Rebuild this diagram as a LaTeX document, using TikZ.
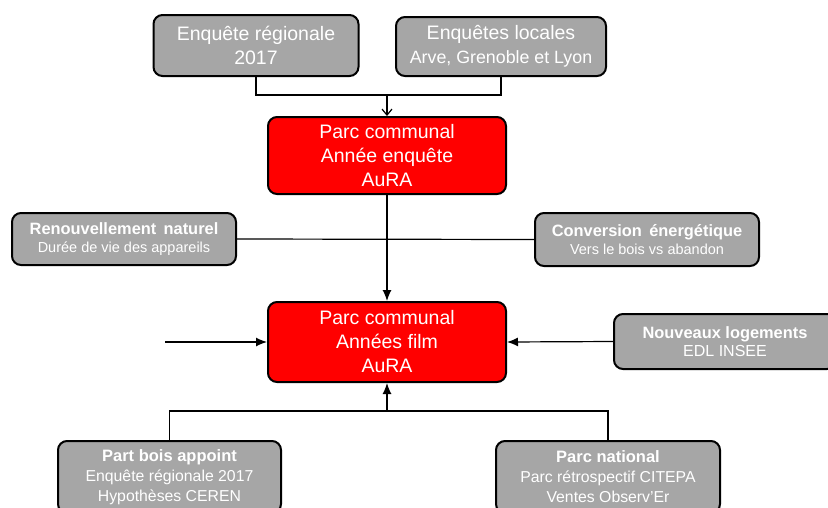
\documentclass[tikz,border=0pt]{standalone}
\usepackage{fontspec}
\setmainfont{Liberation Sans}
\usetikzlibrary{arrows.meta, positioning}
\definecolor{boxgray}{RGB}{166,166,166}
\definecolor{boxred}{RGB}{255,0,0}

\begin{document}
\begin{tikzpicture}[x=1pt, y=-1pt,
    source/.style={rectangle, rounded corners=9pt, draw, line width=2pt,
                   fill=boxgray, text=white, align=center, inner sep=0pt},
    parc/.style={source, fill=boxred},
    bigtext/.style={font=\fontsize{19.5}{24}\selectfont},
    smalltext/.style={font=\fontsize{14.5}{18.5}\selectfont},
    link/.style={line width=1.2pt},
    >={Latex[length=11pt,width=9pt]}]

        \useasboundingbox (0,0) rectangle (828,507);

        % sources de l'enquete
        \node[source, bigtext, minimum width=205, minimum height=61] (enq_reg)
            at (256,45.5) {Enquête régionale\\2017};
        \node[source, bigtext, minimum width=210, minimum height=59] (enq_loc)
            at (501,46.5) {Enquêtes locales\\{\fontsize{17.8}{24}\selectfont Arve, Grenoble et Lyon}};

        % parcs communaux
        \node[parc, bigtext, minimum width=238, minimum height=77] (parc_enq)
            at (387,155.5) {Parc communal\\Année enquête\\AuRA};
        \node[parc, bigtext, minimum width=238, minimum height=80] (parc_film)
            at (387,342) {Parc communal\\Années film\\AuRA};

        % evolutions
        \node[source, smalltext, minimum width=224, minimum height=52] (renouv)
            at (124,239) {{\fontsize{16.4}{18.5}\selectfont\bfseries Renouvellement\, naturel}\\Durée de vie des appareils};
        \node[source, smalltext, minimum width=224, minimum height=53] (conv)
            at (647,239.5) {{\fontsize{16.4}{18.5}\selectfont\bfseries Conversion\, énergétique}\\Vers le bois vs abandon};
        \node[source, smalltext, minimum width=222, minimum height=55] (logements)
            at (725,341.5) {{\fontsize{16.4}{19}\selectfont\bfseries Nouveaux logements}\\{\fontsize{16}{19}\selectfont EDL INSEE}};

        % apports
        \node[source, font=\fontsize{15.8}{20}\selectfont, minimum width=223, minimum height=72] (bois)
            at (169.5,477) {{\fontsize{16.5}{20}\selectfont\bfseries Part bois appoint}\\Enquête régionale 2017\\Hypothèses CEREN};
        \node[source, font=\fontsize{15.8}{20}\selectfont, minimum width=224, minimum height=72] (national)
            at (608,477) {{\fontsize{16.5}{20}\selectfont\bfseries Parc national}\\Parc rétrospectif CITEPA\\Ventes Observ'Er};

        \coordinate (top_join) at (387,95);
        \coordinate (bot_join) at (387,411);
        \coordinate (left_in) at (165,342);

        \draw[link] (enq_reg.south) |- (top_join) -| (enq_loc.south);
        \draw[link, -{Straight Barb[length=6pt,width=10pt]}] (top_join) -- (parc_enq.north);

        \draw[link, ->] (parc_enq.south) -- (parc_film.north);
        \draw[link] (renouv.east) -- (conv.west);

        \draw[link, ->] (left_in) -- (parc_film.west);
        \draw[link, ->] (logements.west) -- (parc_film.east);

        \draw[link] (bois.north) |- (bot_join) -| (national.north);
        \draw[link, ->] (bot_join) -- (parc_film.south);

    \end{tikzpicture}
\end{document}
